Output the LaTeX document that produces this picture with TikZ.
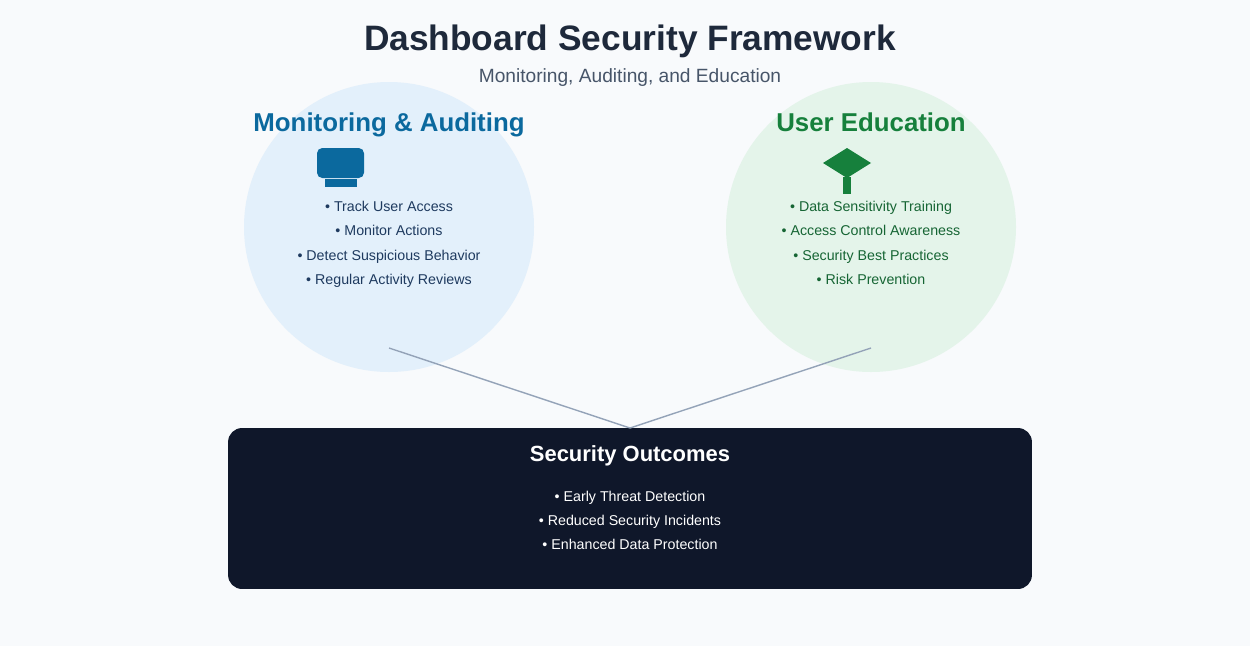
\documentclass[tikz,border=0pt]{standalone}
\usepackage{fontspec}
\setmainfont{Liberation Sans}
\usetikzlibrary{positioning}
\definecolor{PageBg}{HTML}{F8FAFC}
\definecolor{TitleInk}{HTML}{1E293B}
\definecolor{SubInk}{HTML}{475569}
\definecolor{MonBlue}{HTML}{0B699E}
\definecolor{MonFill}{HTML}{E3F0FB}
\definecolor{MonText}{HTML}{1E3A5F}
\definecolor{EduGreen}{HTML}{16803C}
\definecolor{EduFill}{HTML}{E4F4EA}
\definecolor{EduText}{HTML}{166534}
\definecolor{LinkGray}{HTML}{94A3B8}
\definecolor{Navy}{HTML}{0F172A}
\tikzset{
  item/.style={font=\fontsize{8.1}{10}\selectfont,inner sep=0pt,anchor=base},
  head/.style={font=\fontsize{14.7}{17}\selectfont\bfseries,inner sep=0pt,anchor=base},
}
\begin{document}
\begin{tikzpicture}[x=0.02cm,y=-0.02cm]
  \fill[PageBg] (0,0) rectangle (1250,646);
  \node[font=\fontsize{20.1}{22}\selectfont\bfseries,text=TitleInk,anchor=base,inner sep=0pt] (title) at (630,50) {Dashboard Security Framework};
  \node[font=\fontsize{10.9}{12}\selectfont,text=SubInk,anchor=base,inner sep=0pt] (subtitle) at (630,82) {Monitoring, Auditing, and Education};
  % circles
  \fill[MonFill] (389,227) circle[radius=145];
  \fill[EduFill] (871,227) circle[radius=145];
  % monitoring
  \node[head,text=MonBlue] (monhead) at (389,131) {Monitoring \& Auditing};
  \fill[MonBlue,rounded corners=3] (317,148) rectangle (364,178);
  \fill[MonBlue] (325,179) rectangle (357,187);
  \node[item,text=MonText] (mon1) at (389,211) {• Track User Access};
  \node[item,text=MonText] (mon2) at (389,235) {• Monitor Actions};
  \node[item,text=MonText] (mon3) at (389,260) {• Detect Suspicious Behavior};
  \node[item,text=MonText] (mon4) at (389,284) {• Regular Activity Reviews};
  % education
  \node[head,text=EduGreen] (eduhead) at (871,131) {User Education};
  \fill[EduGreen] (847,148) -- (871,163) -- (847,178) -- (823,163) -- cycle;
  \fill[EduGreen] (843,177) rectangle (851,194);
  \node[item,text=EduText] (edu1) at (871,211) {• Data Sensitivity Training};
  \node[item,text=EduText] (edu2) at (871,235) {• Access Control Awareness};
  \node[item,text=EduText] (edu3) at (871,260) {• Security Best Practices};
  \node[item,text=EduText] (edu4) at (871,284) {• Risk Prevention};
  % outcomes
  \node[fill=Navy,rounded corners=0.28cm,minimum width=16.08cm,minimum height=3.22cm,inner sep=0pt] (outbox) at (630,508.5) {};
  \coordinate (monfoot) at (389,348);
  \coordinate (edufoot) at (871,348);
  \coordinate (join) at (630,428);
  \draw[LinkGray,line width=0.8pt] (monfoot) -- (join) -- (edufoot);
  \node[font=\fontsize{12.5}{15}\selectfont\bfseries,text=white,anchor=base,inner sep=0pt] (outhead) at (630,461) {Security Outcomes};
  \node[item,text=white] (out1) at (630,501) {• Early Threat Detection};
  \node[item,text=white] (out2) at (630,525) {• Reduced Security Incidents};
  \node[item,text=white] (out3) at (630,549) {• Enhanced Data Protection};
\end{tikzpicture}
\end{document}
